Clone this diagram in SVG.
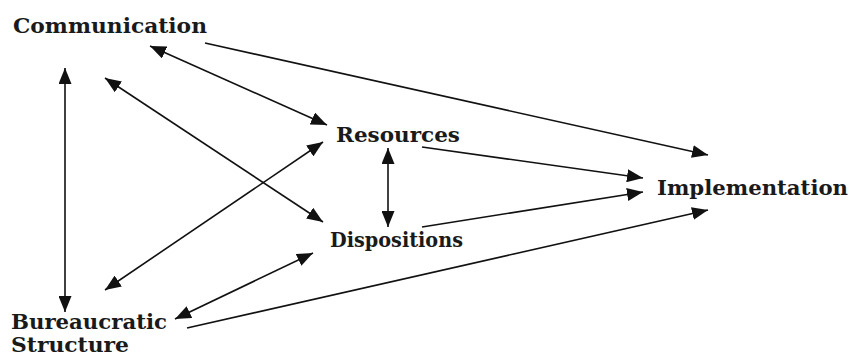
<svg xmlns="http://www.w3.org/2000/svg" width="855" height="358" viewBox="0 0 855 358">
<style>
.lbl{font-family:"DejaVu Serif","Liberation Serif",serif;font-weight:bold;font-size:20.5px;fill:#1a1a1a}
.c{stroke:#111;stroke-width:1.6;fill:none}
</style>
<defs>
<marker id="ah" markerUnits="userSpaceOnUse" markerWidth="16" markerHeight="13" refX="16" refY="6.5" orient="auto-start-reverse">
<path d="M0,0 L16,6.5 L0,13 z" fill="#111"/>
</marker>
</defs>
<rect width="855" height="358" fill="#fff"/>
<g id="connectors">
<line class="c" x1="65" y1="68" x2="65" y2="312" marker-start="url(#ah)" marker-end="url(#ah)"/>
<line class="c" x1="150" y1="46" x2="327" y2="125" marker-start="url(#ah)" marker-end="url(#ah)"/>
<line class="c" x1="205" y1="43" x2="708" y2="155" marker-end="url(#ah)"/>
<line class="c" x1="105" y1="78" x2="323" y2="222" marker-start="url(#ah)" marker-end="url(#ah)"/>
<line class="c" x1="105" y1="290" x2="323" y2="142" marker-start="url(#ah)" marker-end="url(#ah)"/>
<line class="c" x1="175" y1="319" x2="313" y2="253" marker-start="url(#ah)" marker-end="url(#ah)"/>
<line class="c" x1="187" y1="328" x2="708" y2="210" marker-end="url(#ah)"/>
<line class="c" x1="388" y1="148" x2="388" y2="227" marker-start="url(#ah)" marker-end="url(#ah)"/>
<line class="c" x1="422" y1="147" x2="643" y2="178" marker-end="url(#ah)"/>
<line class="c" x1="422" y1="227" x2="643" y2="192" marker-end="url(#ah)"/>
</g>
<g id="communication"><text class="lbl" x="13" y="33" textLength="194" lengthAdjust="spacingAndGlyphs">Communication</text></g>
<g id="resources"><text class="lbl" x="336" y="142" textLength="124" lengthAdjust="spacingAndGlyphs">Resources</text></g>
<g id="dispositions"><text class="lbl" x="330" y="247" textLength="133" lengthAdjust="spacingAndGlyphs">Dispositions</text></g>
<g id="implementation"><text class="lbl" x="657" y="195" textLength="191" lengthAdjust="spacingAndGlyphs">Implementation</text></g>
<g id="bureaucratic"><text class="lbl" x="11" y="329" textLength="156" lengthAdjust="spacingAndGlyphs">Bureaucratic</text><text class="lbl" x="11" y="352" textLength="118" lengthAdjust="spacingAndGlyphs">Structure</text></g>
</svg>
